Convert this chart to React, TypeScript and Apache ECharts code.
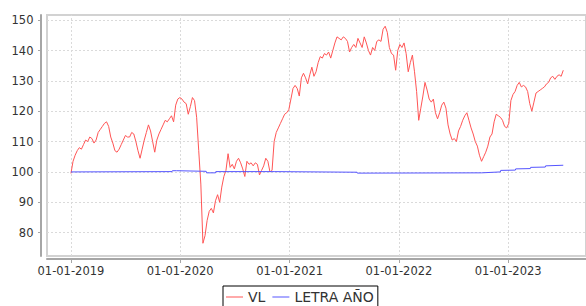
import React, { useEffect, useRef } from "react";
import * as echarts from "echarts";

// VL series: weekly values starting 2019-01-01
const VL_START = "2019-01-01";
const VL_STEP_DAYS = 7;
const VL_VALUES = [
  99.5, 103.5, 105.5, 107, 108, 107.5, 109, 110.5, 110, 111.5,
  111, 109.5, 110.5, 113, 114, 115, 116, 116.5, 115, 111.5,
  109.5, 107, 106.5, 107.5, 109, 110.5, 112, 111.5, 111.5, 113,
  112.5, 110, 107, 104.5, 107.5, 110.5, 113, 115.5, 113.5, 110,
  106.5, 110.5, 112.5, 114, 115.5, 117, 116.5, 117.5, 118.5, 116.5,
  122, 124, 124.5, 124, 123, 122.5, 119, 121.5, 124.5, 123.5,
  118, 107, 96, 76.5, 79, 84, 87, 88, 86.5, 90.5,
  92.5, 90, 95, 98.5, 100.5, 106, 101.5, 102.5, 101, 103.5,
  104.5, 103, 101, 98.5, 103.5, 102.5, 103, 102, 103, 102.5,
  99, 100.5, 102, 104.5, 103.5, 100, 100.5, 110, 113, 114.5,
  116, 117.5, 119, 119.5, 120.5, 124, 127.5, 128.5, 127.5, 125,
  131, 132.5, 131, 129, 132, 134.5, 131.5, 133, 136, 138,
  137.5, 139, 138.5, 139.5, 137.5, 140, 142.5, 144.5, 144, 143.5,
  144.5, 144, 143, 139.5, 141, 142, 141, 144, 142.5, 141,
  144.5, 142.5, 140, 138.5, 141, 140, 143, 143.5, 143, 147,
  148, 146, 141, 139, 138.5, 133.5, 140, 142, 141, 142.5,
  139, 133, 136, 138.5, 133, 126.5, 117, 121, 125, 129.5,
  127, 124, 123, 124, 119.5, 117.5, 119.5, 122, 123, 121,
  115.5, 112.5, 110.5, 111, 110, 113.5, 115, 117, 118.5, 119.5,
  117, 114.5, 112.5, 110, 108.5, 105.5, 103.5, 105, 106.5, 108.5,
  111.5, 112.5, 116.5, 119, 118.5, 118, 117, 115, 114.5, 116,
  123.5, 125.5, 126.5, 128.5, 129.5, 128, 128.5, 128, 126.5, 122.5,
  120, 123, 126, 126.5, 127, 127.5, 128, 129, 129.5, 131,
  131.5, 130.5, 131.5, 132, 131.5, 133.5,
];

// LETRA AÑO series
const LETRA_DATES = [
  "2019-01-01", "2019-12-05", "2019-12-06", "2019-12-20", "2019-12-21",
  "2020-03-28", "2020-03-29", "2020-04-28", "2020-04-29", "2020-11-10",
  "2020-11-11", "2021-08-14", "2021-08-15", "2022-10-04", "2022-10-05",
  "2022-12-06", "2022-12-07", "2023-01-25", "2023-01-26", "2023-03-16",
  "2023-03-17", "2023-05-05", "2023-05-06", "2023-07-04",
];
const LETRA_VALUES = [
  100, 100.1, 100.4, 100.4, 100.2,
  100.2, 99.7, 99.7, 100.1, 100.1,
  99.9, 99.9, 99.6, 99.7, 99.9,
  100.0, 100.5, 100.6, 101.0, 101.1,
  101.5, 101.6, 102.0, 102.2,
];

const X_TICK_DATES = ["2019-01-01", "2020-01-01", "2021-01-01", "2022-01-01", "2023-01-01"];
const Y_TICKS = [80, 90, 100, 110, 120, 130, 140, 150];
const SERIES_NAMES = ["VL", "LETRA AÑO"];

function parseLocal(s: string): number {
  const [y, m, d] = s.split("-").map(Number);
  return new Date(y, m - 1, d).getTime();
}

function fmtDate(v: number): string {
  const d = new Date(v);
  const dd = String(d.getDate()).padStart(2, "0");
  const mm = String(d.getMonth() + 1).padStart(2, "0");
  return `${dd}-${mm}-${d.getFullYear()}`;
}

export default function App() {
  const ref = useRef<HTMLDivElement>(null);

  useEffect(() => {
    if (!ref.current) return;
    const chart = echarts.init(ref.current, undefined, { renderer: "svg" });

    const startD = new Date(parseLocal(VL_START));
    const vlData = VL_VALUES.map((v, i) => {
      const d = new Date(startD.getFullYear(), startD.getMonth(), startD.getDate() + i * VL_STEP_DAYS);
      return [d.getTime(), v];
    });
    const letraData = LETRA_DATES.map((s, i) => [parseLocal(s), LETRA_VALUES[i]]);
    const xTicks = X_TICK_DATES.map(parseLocal);

    const axisColor = "#a6a6a6";
    const font = "DejaVu Sans";

    chart.setOption({
      animation: false,
      backgroundColor: "#ffffff",
      grid: {
        left: 47, right: -2, top: 15, bottom: 50,
        show: true, borderColor: "#d2d2d2", borderWidth: 2, backgroundColor: "#ffffff",
      },
      legend: {
        data: [
          { name: SERIES_NAMES[0], icon: "rect" },
          { name: SERIES_NAMES[1], icon: "rect" },
        ],
        left: 223, top: 286, padding: [4, 4, 4, 3],
        borderColor: "#000000", borderWidth: 1,
        itemWidth: 17, itemHeight: 1, itemGap: 7,
        textStyle: { fontSize: 14, fontFamily: font, color: "#333333" },
      },
      xAxis: {
        type: "value",
        min: parseLocal("2018-10-13"),
        max: parseLocal("2023-09-18"),
        offset: 3,
        axisLine: { show: true, onZero: false, lineStyle: { color: axisColor, width: 2 } },
        axisTick: { show: true, customValues: xTicks, length: 4, lineStyle: { color: axisColor, width: 1 } },
        axisLabel: {
          customValues: xTicks,
          formatter: (v: number) => fmtDate(v),
          fontSize: 11.5, fontFamily: font, color: "#333333", margin: 6,
        },
        splitLine: { show: false },
      },
      yAxis: {
        type: "value",
        min: 72.3, max: 151.7, offset: 6,
        axisLine: { show: true, onZero: false, lineStyle: { color: axisColor, width: 2 } },
        axisTick: { show: true, customValues: Y_TICKS, length: 3, lineStyle: { color: axisColor, width: 1 } },
        axisLabel: {
          customValues: Y_TICKS,
          fontSize: 11.5, fontFamily: font, color: "#333333", margin: 7.5,
        },
        splitLine: { show: false },
      },
      series: [
        {
          name: "grid-lines",
          type: "line",
          data: [],
          z: 1,
          markLine: {
            z: 1,
            silent: true,
            symbol: "none",
            label: { show: false },
            lineStyle: { color: "#dadada", width: 1, type: [2, 2] },
            data: [
              ...xTicks.map((t) => ({ xAxis: t })),
              ...Y_TICKS.map((v) => ({ yAxis: v })),
            ],
          },
        },
        {
          name: SERIES_NAMES[0], type: "line", data: vlData,
          showSymbol: false, symbol: "none", z: 3,
          lineStyle: { color: "#ff5555", width: 1 }, itemStyle: { color: "#ff5555" },
        },
        {
          name: SERIES_NAMES[1], type: "line", data: letraData,
          showSymbol: false, symbol: "none", z: 3,
          lineStyle: { color: "#5555ff", width: 1 }, itemStyle: { color: "#5555ff" },
        },
      ],
    });

    return () => chart.dispose();
  }, []);

  return <div ref={ref} style={{ position: "fixed", left: 0, top: 0, width: 586, height: 306 }} />;
}
